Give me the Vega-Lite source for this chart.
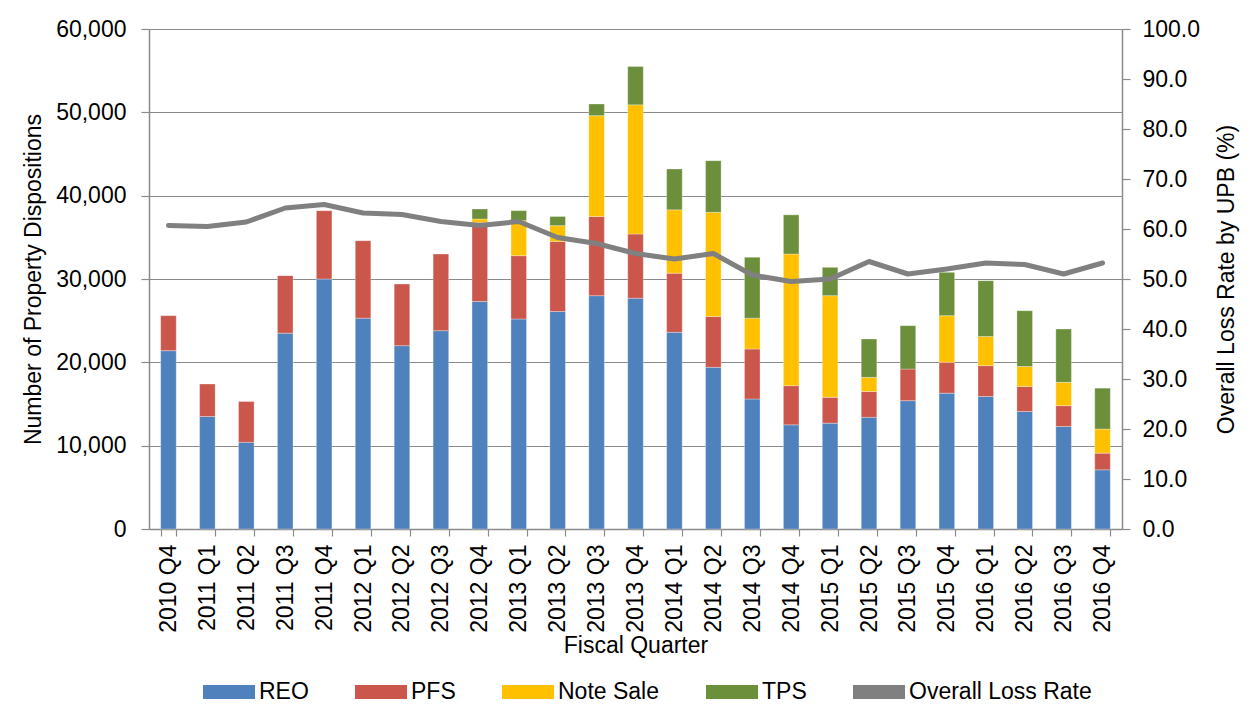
{
  "$schema": "https://vega.github.io/schema/vega-lite/v6.json",
  "width": 973,
  "height": 500,
  "autosize": {"type": "none"},
  "padding": {"left": 149, "top": 29, "right": 130, "bottom": 182},
  "background": "#ffffff",
  "config": {
    "font": "Liberation Sans",
    "view": {"stroke": null},
    "axis": {
      "labelFont": "Liberation Sans",
      "labelFontSize": 23,
      "labelColor": "#000000",
      "titleFont": "Liberation Sans",
      "titleFontSize": 23,
      "titleFontWeight": "normal",
      "titleColor": "#000000",
      "domainColor": "#8a8a8a",
      "tickColor": "#8a8a8a",
      "gridColor": "#8a8a8a",
      "domainWidth": 1.5,
      "tickWidth": 1.2,
      "gridWidth": 1.2
    }
  },
  "datasets": {
    "types": [
      {"type": "REO", "rank": 1},
      {"type": "PFS", "rank": 2},
      {"type": "Note Sale", "rank": 3},
      {"type": "TPS", "rank": 4}
    ],
    "bars": [
      {"quarter": "2010 Q4", "type": "REO", "count": 21400},
      {"quarter": "2010 Q4", "type": "PFS", "count": 4200},
      {"quarter": "2011 Q1", "type": "REO", "count": 13500},
      {"quarter": "2011 Q1", "type": "PFS", "count": 3900},
      {"quarter": "2011 Q2", "type": "REO", "count": 10400},
      {"quarter": "2011 Q2", "type": "PFS", "count": 4900},
      {"quarter": "2011 Q3", "type": "REO", "count": 23500},
      {"quarter": "2011 Q3", "type": "PFS", "count": 6900},
      {"quarter": "2011 Q4", "type": "REO", "count": 30000},
      {"quarter": "2011 Q4", "type": "PFS", "count": 8200},
      {"quarter": "2012 Q1", "type": "REO", "count": 25300},
      {"quarter": "2012 Q1", "type": "PFS", "count": 9300},
      {"quarter": "2012 Q2", "type": "REO", "count": 22000},
      {"quarter": "2012 Q2", "type": "PFS", "count": 7400},
      {"quarter": "2012 Q3", "type": "REO", "count": 23800},
      {"quarter": "2012 Q3", "type": "PFS", "count": 9200},
      {"quarter": "2012 Q4", "type": "REO", "count": 27300},
      {"quarter": "2012 Q4", "type": "PFS", "count": 9500},
      {"quarter": "2012 Q4", "type": "Note Sale", "count": 400},
      {"quarter": "2012 Q4", "type": "TPS", "count": 1200},
      {"quarter": "2013 Q1", "type": "REO", "count": 25200},
      {"quarter": "2013 Q1", "type": "PFS", "count": 7600},
      {"quarter": "2013 Q1", "type": "Note Sale", "count": 4200},
      {"quarter": "2013 Q1", "type": "TPS", "count": 1200},
      {"quarter": "2013 Q2", "type": "REO", "count": 26100},
      {"quarter": "2013 Q2", "type": "PFS", "count": 8400},
      {"quarter": "2013 Q2", "type": "Note Sale", "count": 1900},
      {"quarter": "2013 Q2", "type": "TPS", "count": 1100},
      {"quarter": "2013 Q3", "type": "REO", "count": 28000},
      {"quarter": "2013 Q3", "type": "PFS", "count": 9500},
      {"quarter": "2013 Q3", "type": "Note Sale", "count": 12100},
      {"quarter": "2013 Q3", "type": "TPS", "count": 1400},
      {"quarter": "2013 Q4", "type": "REO", "count": 27700},
      {"quarter": "2013 Q4", "type": "PFS", "count": 7700},
      {"quarter": "2013 Q4", "type": "Note Sale", "count": 15500},
      {"quarter": "2013 Q4", "type": "TPS", "count": 4600},
      {"quarter": "2014 Q1", "type": "REO", "count": 23600},
      {"quarter": "2014 Q1", "type": "PFS", "count": 7100},
      {"quarter": "2014 Q1", "type": "Note Sale", "count": 7600},
      {"quarter": "2014 Q1", "type": "TPS", "count": 4900},
      {"quarter": "2014 Q2", "type": "REO", "count": 19400},
      {"quarter": "2014 Q2", "type": "PFS", "count": 6100},
      {"quarter": "2014 Q2", "type": "Note Sale", "count": 12500},
      {"quarter": "2014 Q2", "type": "TPS", "count": 6200},
      {"quarter": "2014 Q3", "type": "REO", "count": 15600},
      {"quarter": "2014 Q3", "type": "PFS", "count": 6000},
      {"quarter": "2014 Q3", "type": "Note Sale", "count": 3700},
      {"quarter": "2014 Q3", "type": "TPS", "count": 7300},
      {"quarter": "2014 Q4", "type": "REO", "count": 12500},
      {"quarter": "2014 Q4", "type": "PFS", "count": 4700},
      {"quarter": "2014 Q4", "type": "Note Sale", "count": 15800},
      {"quarter": "2014 Q4", "type": "TPS", "count": 4700},
      {"quarter": "2015 Q1", "type": "REO", "count": 12700},
      {"quarter": "2015 Q1", "type": "PFS", "count": 3100},
      {"quarter": "2015 Q1", "type": "Note Sale", "count": 12200},
      {"quarter": "2015 Q1", "type": "TPS", "count": 3400},
      {"quarter": "2015 Q2", "type": "REO", "count": 13400},
      {"quarter": "2015 Q2", "type": "PFS", "count": 3100},
      {"quarter": "2015 Q2", "type": "Note Sale", "count": 1700},
      {"quarter": "2015 Q2", "type": "TPS", "count": 4600},
      {"quarter": "2015 Q3", "type": "REO", "count": 15400},
      {"quarter": "2015 Q3", "type": "PFS", "count": 3800},
      {"quarter": "2015 Q3", "type": "TPS", "count": 5200},
      {"quarter": "2015 Q4", "type": "REO", "count": 16300},
      {"quarter": "2015 Q4", "type": "PFS", "count": 3700},
      {"quarter": "2015 Q4", "type": "Note Sale", "count": 5600},
      {"quarter": "2015 Q4", "type": "TPS", "count": 5200},
      {"quarter": "2016 Q1", "type": "REO", "count": 15900},
      {"quarter": "2016 Q1", "type": "PFS", "count": 3700},
      {"quarter": "2016 Q1", "type": "Note Sale", "count": 3500},
      {"quarter": "2016 Q1", "type": "TPS", "count": 6700},
      {"quarter": "2016 Q2", "type": "REO", "count": 14100},
      {"quarter": "2016 Q2", "type": "PFS", "count": 3000},
      {"quarter": "2016 Q2", "type": "Note Sale", "count": 2400},
      {"quarter": "2016 Q2", "type": "TPS", "count": 6700},
      {"quarter": "2016 Q3", "type": "REO", "count": 12300},
      {"quarter": "2016 Q3", "type": "PFS", "count": 2500},
      {"quarter": "2016 Q3", "type": "Note Sale", "count": 2800},
      {"quarter": "2016 Q3", "type": "TPS", "count": 6400},
      {"quarter": "2016 Q4", "type": "REO", "count": 7100},
      {"quarter": "2016 Q4", "type": "PFS", "count": 2000},
      {"quarter": "2016 Q4", "type": "Note Sale", "count": 2900},
      {"quarter": "2016 Q4", "type": "TPS", "count": 4900}
    ],
    "loss": [
      {"quarter": "2010 Q4", "rate": 60.7},
      {"quarter": "2011 Q1", "rate": 60.5},
      {"quarter": "2011 Q2", "rate": 61.4},
      {"quarter": "2011 Q3", "rate": 64.2},
      {"quarter": "2011 Q4", "rate": 64.9},
      {"quarter": "2012 Q1", "rate": 63.2},
      {"quarter": "2012 Q2", "rate": 62.9},
      {"quarter": "2012 Q3", "rate": 61.5},
      {"quarter": "2012 Q4", "rate": 60.7},
      {"quarter": "2013 Q1", "rate": 61.5},
      {"quarter": "2013 Q2", "rate": 58.3},
      {"quarter": "2013 Q3", "rate": 57.1},
      {"quarter": "2013 Q4", "rate": 55.1},
      {"quarter": "2014 Q1", "rate": 54.0},
      {"quarter": "2014 Q2", "rate": 55.1},
      {"quarter": "2014 Q3", "rate": 50.8},
      {"quarter": "2014 Q4", "rate": 49.5},
      {"quarter": "2015 Q1", "rate": 50.0},
      {"quarter": "2015 Q2", "rate": 53.5},
      {"quarter": "2015 Q3", "rate": 51.0},
      {"quarter": "2015 Q4", "rate": 52.0},
      {"quarter": "2016 Q1", "rate": 53.2},
      {"quarter": "2016 Q2", "rate": 52.9},
      {"quarter": "2016 Q3", "rate": 51.0},
      {"quarter": "2016 Q4", "rate": 53.2}
    ]
  },
  "layer": [
    {
      "data": {"name": "bars"},
      "transform": [
        {"lookup": "type", "from": {"data": {"name": "types"}, "key": "type", "fields": ["rank"]}}
      ],
      "mark": {"type": "bar", "stroke": "#ffffff", "strokeWidth": 0.6, "strokeOpacity": 0.5},
      "encoding": {
        "x": {
          "field": "quarter",
          "type": "nominal",
          "sort": null,
          "scale": {"paddingInner": 0.6, "paddingOuter": 0.3},
          "axis": {
            "title": "Fiscal Quarter",
            "labelAngle": 270,
            "labelAlign": "right",
            "labelBaseline": "middle",
            "tickBand": "extent",
            "tickSize": 7,
            "labelPadding": 8,
            "titlePadding": 2,
            "grid": false
          }
        },
        "y": {
          "field": "count",
          "type": "quantitative",
          "stack": "zero",
          "scale": {"domain": [0, 60000], "nice": false},
          "axis": {
            "title": "Number of Property Dispositions",
            "values": [0, 10000, 20000, 30000, 40000, 50000, 60000],
            "format": ",.0f",
            "grid": true,
            "tickSize": 8,
            "labelPadding": 15,
            "titlePadding": 10
          }
        },
        "order": {"field": "rank", "type": "quantitative", "sort": "ascending"},
        "color": {
          "field": "type",
          "type": "nominal",
          "sort": ["REO", "PFS", "Note Sale", "TPS", "Overall Loss Rate"],
          "scale": {
            "domain": ["REO", "PFS", "Note Sale", "TPS", "Overall Loss Rate"],
            "range": ["#4F81BD", "#CB574C", "#FFC000", "#6C8F3B", "#808080"]
          },
          "legend": {
            "orient": "none",
            "legendX": 54,
            "legendY": 637,
            "direction": "horizontal",
            "title": null,
            "labelFont": "Liberation Sans",
            "labelFontSize": 23,
            "labelColor": "#000000",
            "labelLimit": 400,
            "symbolSize": 2704,
            "symbolType": "M-1,-0.27H1V0.27H-1Z",
            "symbolStrokeWidth": 0,
            "labelOffset": 4,
            "columnPadding": 46,
            "encode": {
              "symbols": {
                "update": {
                  "shape": {"signal": "datum.value === 'Overall Loss Rate' ? 'M-1,-0.08H1V0.08H-1Z' : 'M-1,-0.27H1V0.27H-1Z'"},
                  "fill": {"scale": "color", "field": "value"},
                  "strokeWidth": {"value": 0}
                }
              }
            }
          }
        }
      }
    },
    {
      "data": {"name": "loss"},
      "mark": {"type": "line", "strokeWidth": 5, "strokeCap": "round", "strokeJoin": "round"},
      "encoding": {
        "x": {"field": "quarter", "type": "nominal", "sort": null},
        "y": {
          "field": "rate",
          "type": "quantitative",
          "scale": {"domain": [0, 100], "nice": false},
          "axis": {
            "orient": "right",
            "title": "Overall Loss Rate by UPB (%)",
            "values": [0, 10, 20, 30, 40, 50, 60, 70, 80, 90, 100],
            "format": ".1f",
            "grid": false,
            "tickSize": 8,
            "labelPadding": 12,
            "titlePadding": 39,
            "titleAngle": 270
          }
        },
        "color": {"datum": "Overall Loss Rate", "type": "nominal", "legend": null}
      }
    }
  ],
  "resolve": {"scale": {"y": "independent"}}
}
